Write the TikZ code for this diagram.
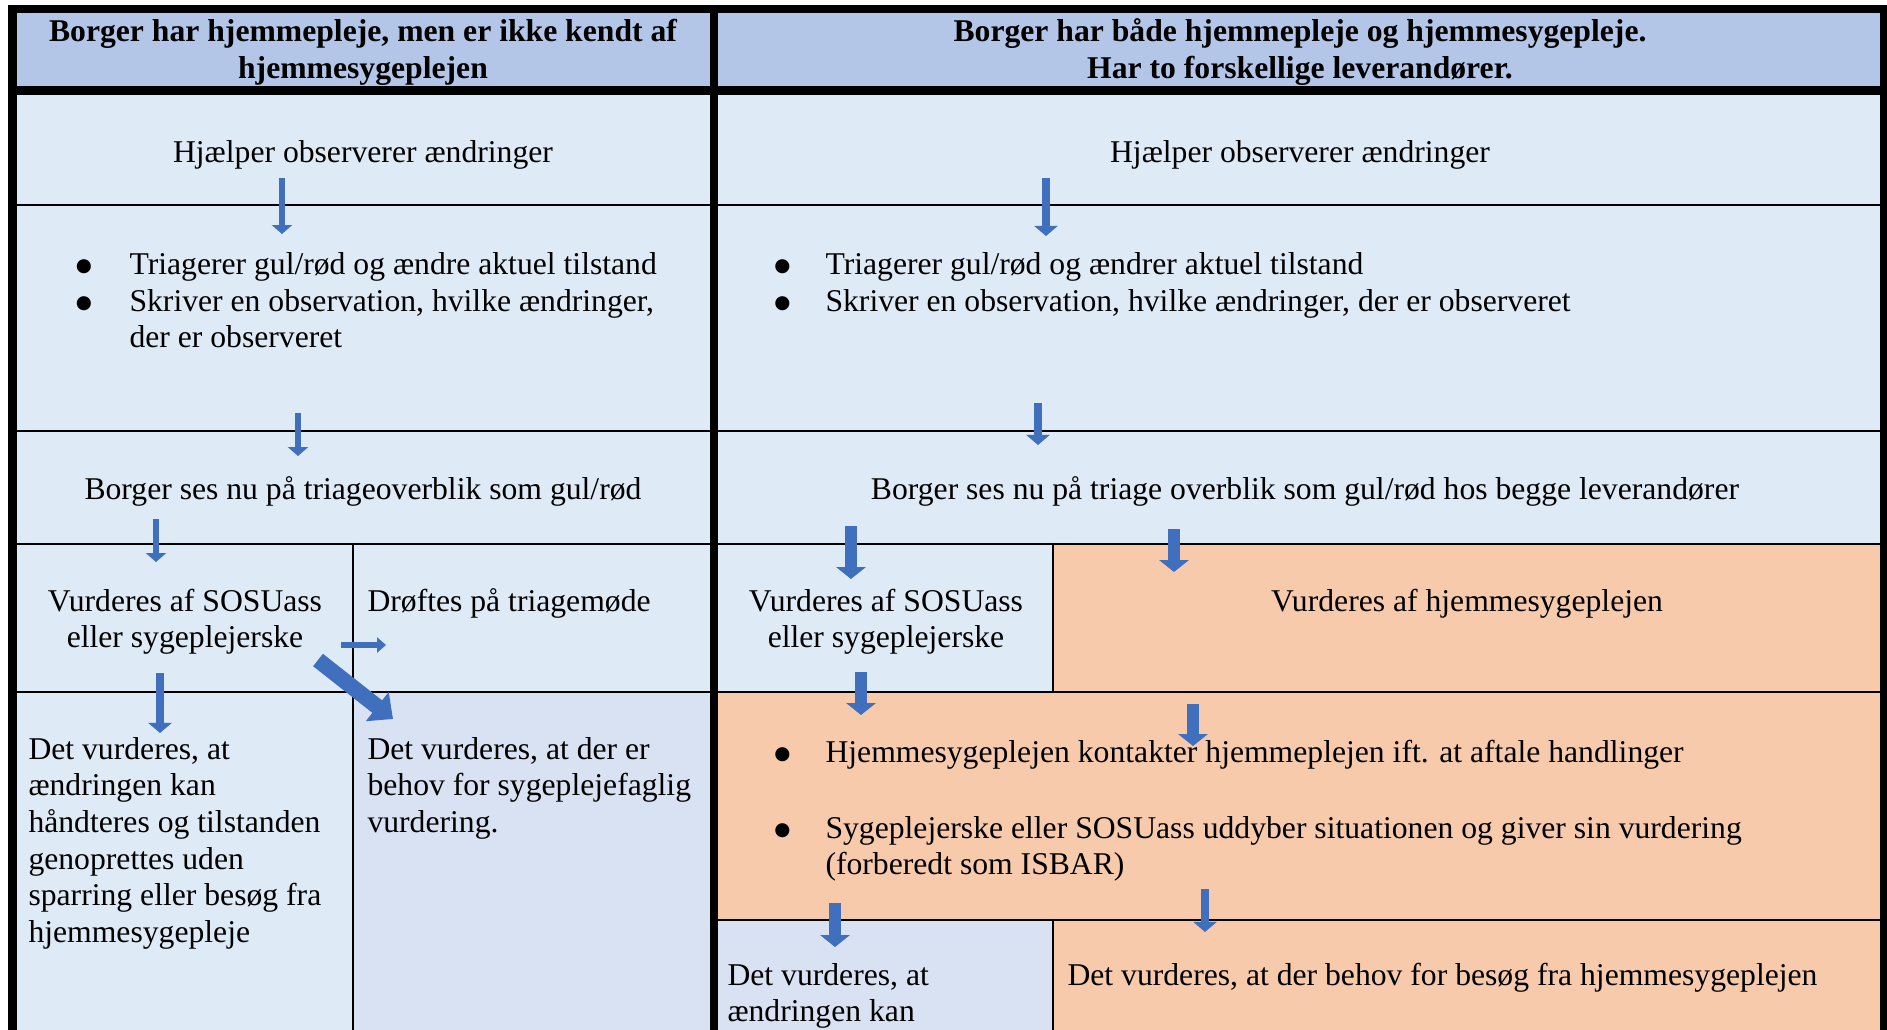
\documentclass[tikz,border=0pt]{standalone}
\usepackage{fontspec}
\setmainfont{Liberation Serif}
\newfontfamily\tegnfont{DejaVu Sans}
\usetikzlibrary{arrows.meta}
\definecolor{hoved}{HTML}{B4C6E7}
\definecolor{lysblaa}{HTML}{DEEAF6}
\definecolor{lilla}{HTML}{D9E2F3}
\definecolor{fersken}{HTML}{F7CAAC}
\definecolor{pil}{HTML}{4070BD}
\newcommand{\punkt}{{\tegnfont\fontsize{7}{8}\selectfont ●}}
\tikzset{
  tekst/.style={font=\fontsize{12}{13.9}\selectfont, inner sep=0pt},
  midt/.style={tekst, align=center, anchor=base},
  venstre/.style={tekst, align=left, anchor=base west},
  hovedtekst/.style={midt, font=\fontsize{12}{13.9}\selectfont\bfseries},
  kant/.style={line width=0.95pt},
  ramme/.style={line width=3.4pt},
  tynd/.style={draw=pil, line width=2.65pt, -{Triangle[width=7.6pt,length=3.4pt]}},
  mellem/.style={draw=pil, line width=3.4pt, -{Triangle[width=8.7pt,length=3.8pt]}},
  tyk/.style={draw=pil, line width=4.9pt, -{Triangle[width=11pt,length=4.5pt]}},
  lille/.style={draw=pil, line width=2.3pt, -{Triangle[width=5.7pt,length=3.4pt]}},
  skraa/.style={draw=pil, line width=6pt, -{Triangle[width=13.6pt,length=7.6pt]}},
}
\begin{document}
\begin{tikzpicture}[x=0.379pt, y=-0.379pt]
    \useasboundingbox (0,0) rectangle (1887,1030);
    % Celler
    \fill[white] (0,0) rectangle (1887,1030);
    \fill[hoved] (12,9) rectangle (1884,90);
    \fill[lysblaa] (12,90) rectangle (1884,692);
    \fill[fersken] (1053,544) rectangle (1884,692);
    \fill[lysblaa] (12,692) rectangle (353,1030);
    \fill[lilla] (353,692) rectangle (714,1030);
    \fill[fersken] (714,692) rectangle (1884,1030);
    \fill[lilla] (714,920) rectangle (1053,1030);
    % Tynde streger
    \draw[kant] (12,205) -- (1884,205) (12,431) -- (1884,431) (12,544) -- (1884,544) (12,692) -- (1884,692) (714,920) -- (1884,920);
    \draw[kant] (353,544) -- (353,1030) (1053,544) -- (1053,692) (1053,920) -- (1053,1030);
    % Tykke rammer
    \draw[ramme] (8,9) -- (1888,9) (12,90.5) -- (1884,90.5);
    \draw[ramme] (12.5,4.5) -- (12.5,1030) (714,4.5) -- (714,1030) (1884,4.5) -- (1884,1030);
    % Overskrifter (base = sidste linje)
    \node[hovedtekst] (hovedV) at (363,78) {Borger har hjemmepleje, men er ikke kendt af\\hjemmesygeplejen};
    \node[hovedtekst] (hovedH) at (1300,78) {Borger har både hjemmepleje og hjemmesygepleje.\\Har to forskellige leverandører.};
    % Venstre kolonne
    \node[midt] (hjV) at (363,162) {Hjælper observerer ændringer};
    \node[midt] (pkt1) at (84,271) {\punkt};
    \node[venstre] (triV) at (129,274) {Triagerer gul/rød og ændre aktuel tilstand};
    \node[midt] (pkt2) at (84,308) {\punkt};
    \node[venstre] (skrV) at (129,347.7) {Skriver en observation, hvilke ændringer,\\der er observeret};
    \node[midt] (sesV) at (363,499) {Borger ses nu på triageoverblik som gul/rød};
    \node[midt] (vurdV) at (185,647.7) {Vurderes af SOSUass\\eller sygeplejerske};
    \node[venstre] (droeft) at (367,611) {Drøftes på triagemøde};
    \node[venstre] (haandV) at (28,942.5) {Det vurderes, at\\ændringen kan\\håndteres og tilstanden\\genoprettes uden\\sparring eller besøg fra\\hjemmesygepleje};
    \node[venstre] (behovV) at (367,832.4) {Det vurderes, at der er\\behov for sygeplejefaglig\\vurdering.};
    % Hoejre kolonne
    \node[midt] (hjH) at (1300,162) {Hjælper observerer ændringer};
    \node[midt] (pkt3) at (782.5,271) {\punkt};
    \node[venstre] (triH) at (825,274) {Triagerer gul/rød og ændrer aktuel tilstand};
    \node[midt] (pkt4) at (782.5,308) {\punkt};
    \node[venstre] (skrH) at (825,311) {Skriver en observation, hvilke ændringer, der er observeret};
    \node[midt] (sesH) at (1305,499) {Borger ses nu på triage overblik som gul/rød hos begge leverandører};
    \node[midt] (vurdH) at (886,647.7) {Vurderes af SOSUass\\eller sygeplejerske};
    \node[midt] (vurdHs) at (1467,611) {Vurderes af hjemmesygeplejen};
    \node[midt] (pkt5) at (782.5,759) {\punkt};
    \node[venstre] (kontakt) at (825,762) {Hjemmesygeplejen kontakter hjemmeplejen ift. at aftale handlinger};
    \node[midt] (pkt6) at (782.5,835) {\punkt};
    \node[venstre] (uddyb) at (825,874.7) {Sygeplejerske eller SOSUass uddyber situationen og giver sin vurdering\\(forberedt som ISBAR)};
    \node[venstre] (haandH) at (727,1021.7) {Det vurderes, at\\ændringen kan};
    \node[venstre] (besoeg) at (1067,985) {Det vurderes, at der behov for besøg fra hjemmesygeplejen};
    % Pile
    \coordinate (a1) at (282,178);  \coordinate (b1) at (282,234);
    \coordinate (a2) at (298,413);  \coordinate (b2) at (298,456);
    \coordinate (a3) at (156,519);  \coordinate (b3) at (156,562);
    \coordinate (a4) at (160,673);  \coordinate (b4) at (160,733);
    \coordinate (a5) at (341,645);  \coordinate (b5) at (386,645);
    \coordinate (a6) at (318,660);  \coordinate (b6) at (393,719);
    \coordinate (a7) at (1046,178); \coordinate (b7) at (1046,236);
    \coordinate (a8) at (1038,403); \coordinate (b8) at (1038,445);
    \coordinate (a9) at (851,526);  \coordinate (b9) at (851,579);
    \coordinate (a10) at (1174,529); \coordinate (b10) at (1174,572);
    \coordinate (a11) at (861,672); \coordinate (b11) at (861,715);
    \coordinate (a12) at (1193,704); \coordinate (b12) at (1193,746);
    \coordinate (a13) at (835,903); \coordinate (b13) at (835,947);
    \coordinate (a14) at (1205,889); \coordinate (b14) at (1205,932);
    \draw[tynd] (a1) -- (b1);
    \draw[tynd] (a2) -- (b2);
    \draw[tynd] (a3) -- (b3);
    \draw[mellem] (a4) -- (b4);
    \draw[lille] (a5) -- (b5);
    \draw[skraa] (a6) -- (b6);
    \draw[mellem] (a7) -- (b7);
    \draw[mellem] (a8) -- (b8);
    \draw[tyk] (a9) -- (b9);
    \draw[tyk] (a10) -- (b10);
    \draw[tyk] (a11) -- (b11);
    \draw[tyk] (a12) -- (b12);
    \draw[tyk] (a13) -- (b13);
    \draw[mellem] (a14) -- (b14);
\end{tikzpicture}
\end{document}
